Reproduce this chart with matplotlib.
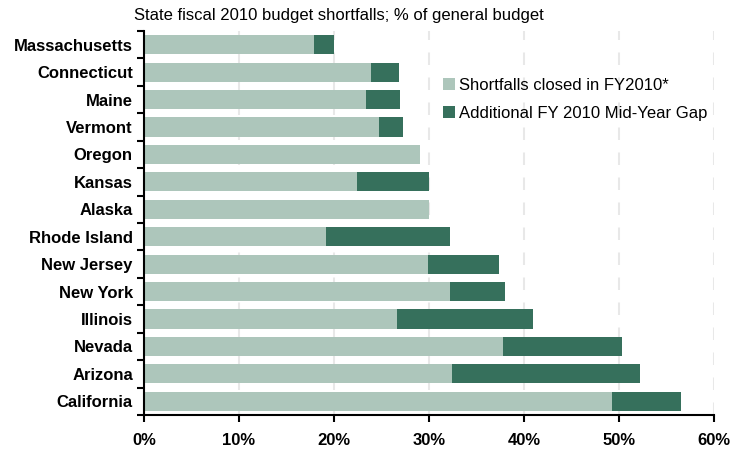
import numpy as np
import matplotlib.pyplot as plt
from matplotlib.ticker import FuncFormatter

plt.rcParams['font.family'] = ['Liberation Sans', 'DejaVu Sans']

states = ["Massachusetts", "Connecticut", "Maine", "Vermont", "Oregon",
          "Kansas", "Alaska", "Rhode Island", "New Jersey", "New York",
          "Illinois", "Nevada", "Arizona", "California"]
# % of general budget
closed = [17.9, 23.9, 23.4, 24.7, 29.1, 22.4, 30.0,
          19.2, 29.9, 32.2, 26.6, 37.8, 32.4, 49.3]
gap = [2.1, 2.9, 3.5, 2.6, 0.0, 7.6, 0.0,
       13.0, 7.5, 5.8, 14.3, 12.5, 19.8, 7.2]

LIGHT = "#adc6bb"
DARK = "#36705c"

fig = plt.figure(figsize=(7.32, 4.50), dpi=100)
ax = fig.add_axes([0.1967, 0.0778, 0.7787, 0.8533])

y = np.arange(len(states))
ax.barh(y, closed, height=0.7, color=LIGHT, label="Shortfalls closed in FY2010*")
ax.barh(y, gap, left=closed, height=0.7, color=DARK,
        label="Additional FY 2010 Mid-Year Gap")

ax.set_xlim(0, 60)
ax.set_ylim(len(states) - 0.5, -0.5)
ax.set_xticks(np.arange(0, 61, 10))
ax.xaxis.set_major_formatter(FuncFormatter(lambda v, _: f"{v:.0f}%"))

# state names sit at bar centres, tick marks at the boundaries between bars
ax.set_yticks(y)
ax.set_yticklabels(states, fontweight="bold", fontsize=12)
ax.set_yticks(np.arange(len(states) + 1) - 0.5, minor=True)
ax.tick_params(axis="y", which="major", length=0, pad=8)
ax.tick_params(axis="y", which="minor", length=5, width=1.5, direction="out")
ax.tick_params(axis="x", length=5, width=1.5, direction="out", pad=8)
for t in ax.get_xticklabels():
    t.set_fontweight("bold")
    t.set_fontsize(12)

ax.grid(axis="x", color="#e8e8e8", linestyle=(0, (6, 6)), linewidth=1.5)
ax.set_axisbelow(True)
for s in ("top", "right"):
    ax.spines[s].set_visible(False)
for s in ("left", "bottom"):
    ax.spines[s].set_linewidth(1.5)

ax.legend(loc="upper left", bbox_to_anchor=(0.51, 0.9), frameon=False,
          fontsize=12, handlelength=0.7, handleheight=0.7,
          handletextpad=0.25, labelspacing=0.78, borderpad=0)

fig.text(0.183, 0.966, "State fiscal 2010 budget shortfalls; % of general budget",
         fontsize=12, va="center", ha="left")

fig.savefig("out.png", dpi=100)
